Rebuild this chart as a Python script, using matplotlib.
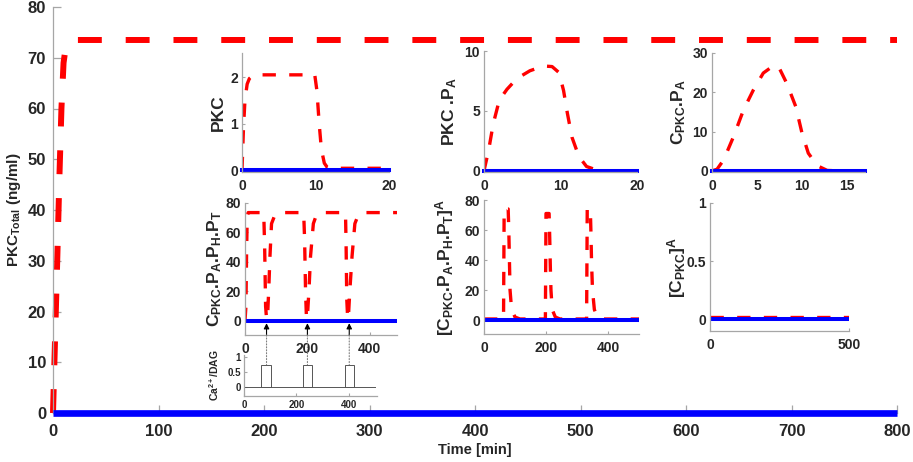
import matplotlib
matplotlib.use('Agg')
import matplotlib.pyplot as plt
import matplotlib.transforms as mtransforms
from matplotlib.patches import ConnectionPatch

plt.rcParams.update({
    'font.family': ['Liberation Sans', 'DejaVu Sans'],
    'font.weight': 'bold',
    'mathtext.fontset': 'custom',
    'mathtext.rm': 'Liberation Sans:bold',
    'mathtext.it': 'Liberation Sans:bold',
    'mathtext.bf': 'Liberation Sans:bold',
    'mathtext.sf': 'Liberation Sans:bold',
    'mathtext.default': 'regular',
    'axes.linewidth': 0.9,
    'axes.edgecolor': '#a6a6a6',
    'xtick.color': '#a6a6a6',
    'ytick.color': '#a6a6a6',
    'xtick.labelcolor': '#262626',
    'ytick.labelcolor': '#262626',
    'xtick.direction': 'in',
    'ytick.direction': 'in',
})

# ---------------- data ----------------
# main panel
main_red_t = [0, 2, 4, 6, 8, 10, 12, 15, 20, 800]
main_red_y = [0, 15, 30, 46, 60, 69, 72, 73.3, 73.5, 73.5]
main_blue_t = [0, 800]
main_blue_y = [0, 0]
main_xticks = [0, 100, 200, 300, 400, 500, 600, 700, 800]
main_yticks = [0, 10, 20, 30, 40, 50, 60, 70, 80]

# PKC
pkc_t = [0, 0.2, 0.4, 0.7, 1.0, 1.5, 2, 5, 9.9, 10.2, 10.5, 10.8, 11.2, 11.6, 12, 15, 19.5]
pkc_y = [0, 0.9, 1.5, 1.85, 1.97, 2.04, 2.05, 2.05, 2.05, 1.7, 1.0, 0.45, 0.15, 0.06, 0.04, 0.04, 0.04]
pkc_blue_t = [0, 20]
pkc_blue_y = [0, 0]

# PKC.PA
pkcpa_t = [0, 0.6, 1.2, 2, 3, 4.3, 6, 7.8, 8.9, 9.8, 10.4, 10.9, 11.5, 12.4, 13.4, 14.8, 16, 19]
pkcpa_y = [0, 1.7, 3.9, 5.9, 6.8, 7.7, 8.35, 8.75, 8.7, 8.2, 6.7, 4.8, 2.8, 1.2, 0.36, 0.05, 0, 0]
pkcpa_blue_t = [0, 20]
pkcpa_blue_y = [0, 0]

# C_PKC.PA
cpa_t = [0, 0.56, 1.3, 2.4, 3.5, 4.6, 5.7, 6.85, 7.4, 8.3, 9.3, 10.0, 10.7, 11.7, 12.8, 14, 15.5]
cpa_y = [0, 0.4, 2.8, 8.75, 15.5, 20.6, 24.9, 26.8, 26.5, 22.3, 16.4, 9.6, 4.5, 1.3, 0.1, 0, 0]
cpa_blue_t = [0, 17]
cpa_blue_y = [0, 0]

# C_PKC.PA.PH.PT
cphpt_t = [0, 3, 5, 7, 10, 60, 63, 66, 69, 72, 76, 80, 85, 96, 112, 130,
           188, 191, 194, 197, 199.5, 205, 210, 219, 229, 250,
           322, 324, 326, 329, 331, 336, 343, 352, 363, 378, 490]
cphpt_y = [0, 10, 45, 70, 73.5, 73.5, 50, 10, 1.5, 1.5, 21, 44, 66, 72, 73.5, 73.5,
           73.5, 55, 20, 1.5, 1.5, 21, 44, 66, 72, 73.5,
           73.5, 50, 15, 1.5, 1.5, 21, 44, 66, 72, 73.5, 73.5]
cphpt_blue_t = [0, 487]
cphpt_blue_y = [0, 0]
arrow_t = [69, 200, 334]

# [C_PKC.PA.PH.PT]^A
cphptA_t = [0, 63, 65, 78, 80, 82, 84, 89, 100, 116,
            198, 200, 210, 212, 214, 216, 220, 230, 245,
            331, 333, 343, 345, 347, 350, 356, 365, 380, 500]
cphptA_y = [0.7, 0.7, 74, 74, 60, 40, 20, 7, 2, 0.7,
            0.7, 71, 71, 55, 35, 20, 7, 2, 0.7,
            0.7, 74, 74, 58, 38, 20, 7, 2, 0.7, 0.7]
cphptA_blue_t = [0, 500]
cphptA_blue_y = [0, 0]

# [C_PKC]^A
cA_t = [0, 500]
cA_y = [0.02, 0.02]
cA_blue_t = [0, 500]
cA_blue_y = [0, 0]

# Ca2+/DAG stimulus
pulse_start = [65, 225, 385]
pulse_end = [103, 260, 420]
pulse_height = [0.75, 0.75, 0.75]
ca_base_t = [0, 500]
ca_base_y = [0, 0]

RED = (1, 0, 0)
BLUE = (0, 0, 1)
TXT = '#262626'

fig = plt.figure(figsize=(9.13, 4.62), dpi=100)
W, H = 913.0, 462.0


def box(l, r, t, b):
    return [l / W, 1 - b / H, (r - l) / W, (b - t) / H]


# ---------------- main ----------------
ax = fig.add_axes(box(53, 897, 7, 413))
ax.plot(main_red_t, main_red_y, color=RED, lw=4.3, dashes=(4, 4), zorder=2, clip_on=False)
ax.plot(main_blue_t, main_blue_y, color=BLUE, lw=4.8, solid_capstyle='butt', zorder=3, clip_on=False)
ax.set_xlim(0, 800)
ax.set_ylim(0, 80)
ax.set_xticks(main_xticks)
ax.set_yticks(main_yticks)
ax.tick_params(axis='both', labelsize=12, length=6, width=0.9)
ax.tick_params(axis='x', pad=8)
ax.tick_params(axis='y', pad=5)
for s in ['top', 'right']:
    ax.spines[s].set_visible(False)
ax.set_xlabel('Time [min]', fontsize=10.5, color=TXT, fontweight='bold')
ax.xaxis.set_label_coords(0.5, -0.074)
ax.set_ylabel('PKC$_{Total}$ (ng/ml)', fontsize=11, color=TXT, fontweight='bold')
ax.yaxis.set_label_coords(-0.036, 0.5)


def inset(l, r, t, b, xlim, ylim, xticks, xtl, yticks, ytl, label, lab_px, fs=10, lfs=12.5):
    a = fig.add_axes(box(l, r, t, b))
    a.patch.set_alpha(0)
    a.set_xlim(*xlim)
    a.set_ylim(*ylim)
    a.set_xticks(xticks)
    a.set_xticklabels(xtl, fontweight='bold')
    a.set_yticks(yticks)
    a.set_yticklabels(ytl, fontweight='bold')
    a.tick_params(axis='both', labelsize=fs, length=2.5, width=0.8)
    a.tick_params(axis='x', pad=5)
    a.tick_params(axis='y', pad=3)
    for s in ['top', 'right']:
        a.spines[s].set_visible(False)
    a.set_ylabel(label, fontsize=lfs, color=TXT, fontweight='bold')
    a.yaxis.set_label_coords((lab_px - l) / (r - l), 0.5)
    return a


RL = 2.4
BL = 2.9

a1 = inset(242, 389, 53, 172, (0, 20), (-0.04, 2.52), [0, 10, 20], ['0', '10', '20'],
           [0, 1, 2], ['0', '1', '2'], 'PKC', 226)
a1.plot(pkc_t, pkc_y, color=RED, lw=RL, dashes=(4, 4))
a1.plot(pkc_blue_t, pkc_blue_y, color=BLUE, lw=BL, clip_on=False)

a2 = inset(484, 637, 51, 172, (0, 20), (-0.1, 10), [0, 10, 20], ['0', '10', '20'],
           [0, 5, 10], ['0', '5', '10'], 'PKC .P$_A$', 459)
a2.plot(pkcpa_t, pkcpa_y, color=RED, lw=RL, dashes=(4, 4))
a2.plot(pkcpa_blue_t, pkcpa_blue_y, color=BLUE, lw=BL, clip_on=False)

a3 = inset(712, 865, 53, 172, (0, 17), (-0.3, 30), [0, 5, 10, 15], ['0', '5', '10', '15'],
           [0, 10, 20, 30], ['0', '10', '20', '30'], 'C$_{PKC}$.P$_A$', 688)
a3.plot(cpa_t, cpa_y, color=RED, lw=RL, dashes=(4, 4))
a3.plot(cpa_blue_t, cpa_blue_y, color=BLUE, lw=BL, clip_on=False)

a4 = inset(245, 397, 203, 335, (0, 487), (-9.5, 80), [0, 200, 400], ['0', '200', '400'],
           [0, 20, 40, 60, 80], ['0', '20', '40', '60', '80'],
           'C$_{PKC}$.P$_A$.P$_H$.P$_T$', 224)
a4.plot(cphpt_t, cphpt_y, color=RED, lw=RL, dashes=(4, 4))
a4.plot(cphpt_blue_t, cphpt_blue_y, color=BLUE, lw=BL)

a5 = inset(484, 639, 200, 334, (0, 500), (-9.3, 80), [0, 200, 400], ['0', '200', '400'],
           [0, 20, 40, 60, 80], ['0', '20', '40', '60', '80'],
           '[C$_{PKC}$.P$_A$.P$_H$.P$_T$]$^A$', 456)
a5.plot(cphptA_t, cphptA_y, color=RED, lw=RL, dashes=(4, 4))
a5.plot(cphptA_blue_t, cphptA_blue_y, color=BLUE, lw=BL)

a6 = inset(710, 849, 203, 331, (0, 500), (-0.1, 1), [0, 500], ['0', '500'],
           [0, 0.5, 1], ['0', '0.5', '1'], '[C$_{PKC}$]$^A$', 688)
a6.plot(cA_t, cA_y, color=RED, lw=RL, dashes=(4, 4))
a6.plot(cA_blue_t, cA_blue_y, color=BLUE, lw=BL)

# Ca2+/DAG stimulus inset
ac = inset(244, 377, 355, 396, (0, 507), (-0.3, 1.07), [0, 200, 400], ['0', '200', '400'],
           [0, 0.5, 1], ['0', '0.5', '1'], 'Ca$^{2+}$/DAG', 221, fs=7, lfs=7.5)
ac.tick_params(axis='x', pad=3)
ac.tick_params(axis='y', pad=2)
ac.plot(ca_base_t, ca_base_y, color='#555555', lw=0.7)
widths = [e - s for s, e in zip(pulse_start, pulse_end)]
ac.bar(pulse_start, pulse_height, width=widths, align='edge', fill=False,
       edgecolor='#555555', lw=0.7)

# arrows and dotted connectors
blend = mtransforms.blended_transform_factory(a4.transData, ac.transData)
for t, h in zip(arrow_t, pulse_height):
    a4.annotate('', xy=(t, -1.5), xytext=(t, -9.5),
                arrowprops=dict(arrowstyle='-|>', color='k', lw=0.8,
                                mutation_scale=8, shrinkA=0, shrinkB=0),
                zorder=5)
    con = ConnectionPatch(xyA=(t, -9.5), coordsA=a4.transData,
                          xyB=(t, h), coordsB=blend,
                          linestyle=':', color='#808080', lw=0.8)
    fig.add_artist(con)

fig.savefig('out.png', dpi=100)
